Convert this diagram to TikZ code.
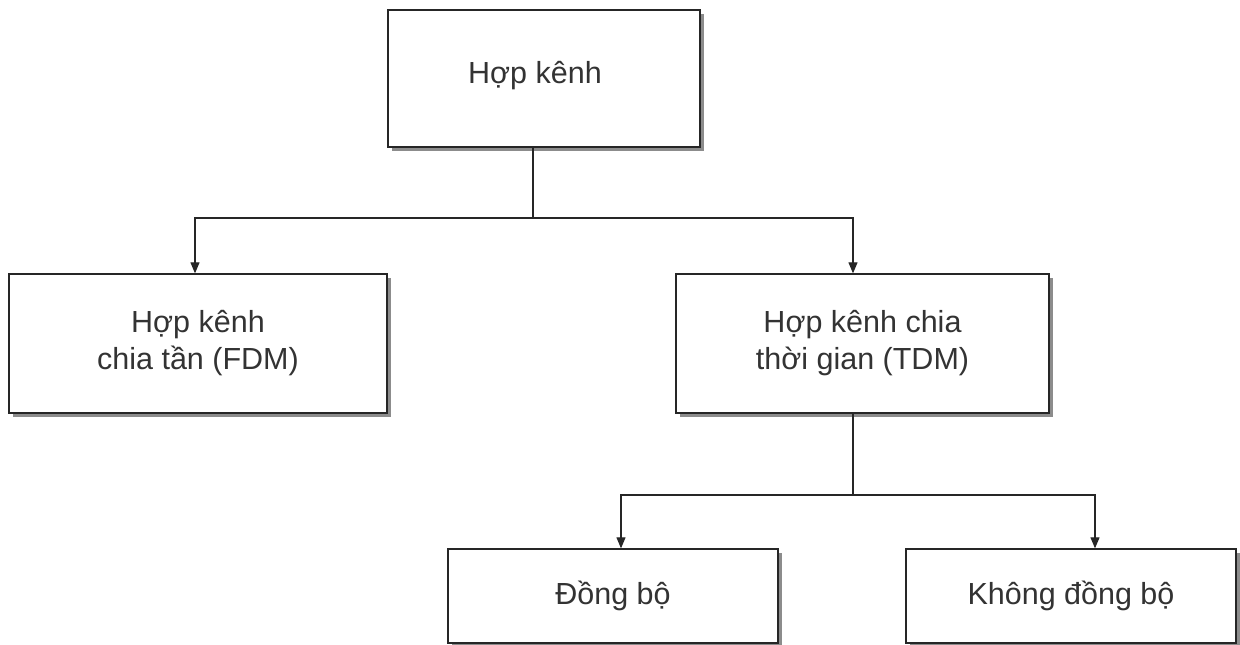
\documentclass[tikz,border=0pt]{standalone}
\usepackage{fontspec}
\setmainfont{Liberation Sans}
\usetikzlibrary{arrows.meta,shadows}
\begin{document}
\begin{tikzpicture}[x=1pt,y=-1pt,
  box/.style={draw=black!85, line width=1.3pt, fill=white, rectangle,
    align=center, inner sep=0pt, text=black!80,
    font=\fontsize{30.5}{37}\selectfont,
    drop shadow={shadow xshift=4pt, shadow yshift=-4pt, fill=black!45, opacity=1}},
  link/.style={draw=black!85, line width=1.1pt},
  arr/.style={link, -{Triangle[length=11pt,width=9pt]}}]
\useasboundingbox (0,0) rectangle (1240,645);

% boxes
\node[box, minimum width=312pt, minimum height=137pt] (mux) at (544,78.5)
  {\raisebox{12pt}{Hợp kênh}\hspace*{18pt}};
\node[box, minimum width=378pt, minimum height=139pt] (fdm) at (198,343.5) {Hợp kênh\\chia tần (FDM)};
\node[box, minimum width=373pt, minimum height=139pt] (tdm) at (862.5,343.5) {Hợp kênh chia\\thời gian (TDM)};
\node[box, minimum width=330pt, minimum height=94pt] (sync) at (613,596) {Đồng bộ};
\node[box, minimum width=330pt, minimum height=94pt] (async) at (1071,596) {Không đồng bộ};

% junctions of the tree lines
\coordinate (j1) at (533,218);
\coordinate (j2) at (853,495);

% connectors
\draw[link] ([xshift=-11pt]mux.south) -- (j1);
\draw[arr] (j1) -| ([xshift=-3pt]fdm.north);
\draw[arr] (j1) -| ([xshift=-9.5pt]tdm.north);
\draw[link] ([xshift=-9.5pt]tdm.south) -- (j2);
\draw[arr] (j2) -| ([xshift=8pt]sync.north);
\draw[arr] (j2) -| ([xshift=24pt]async.north);
\end{tikzpicture}
\end{document}
